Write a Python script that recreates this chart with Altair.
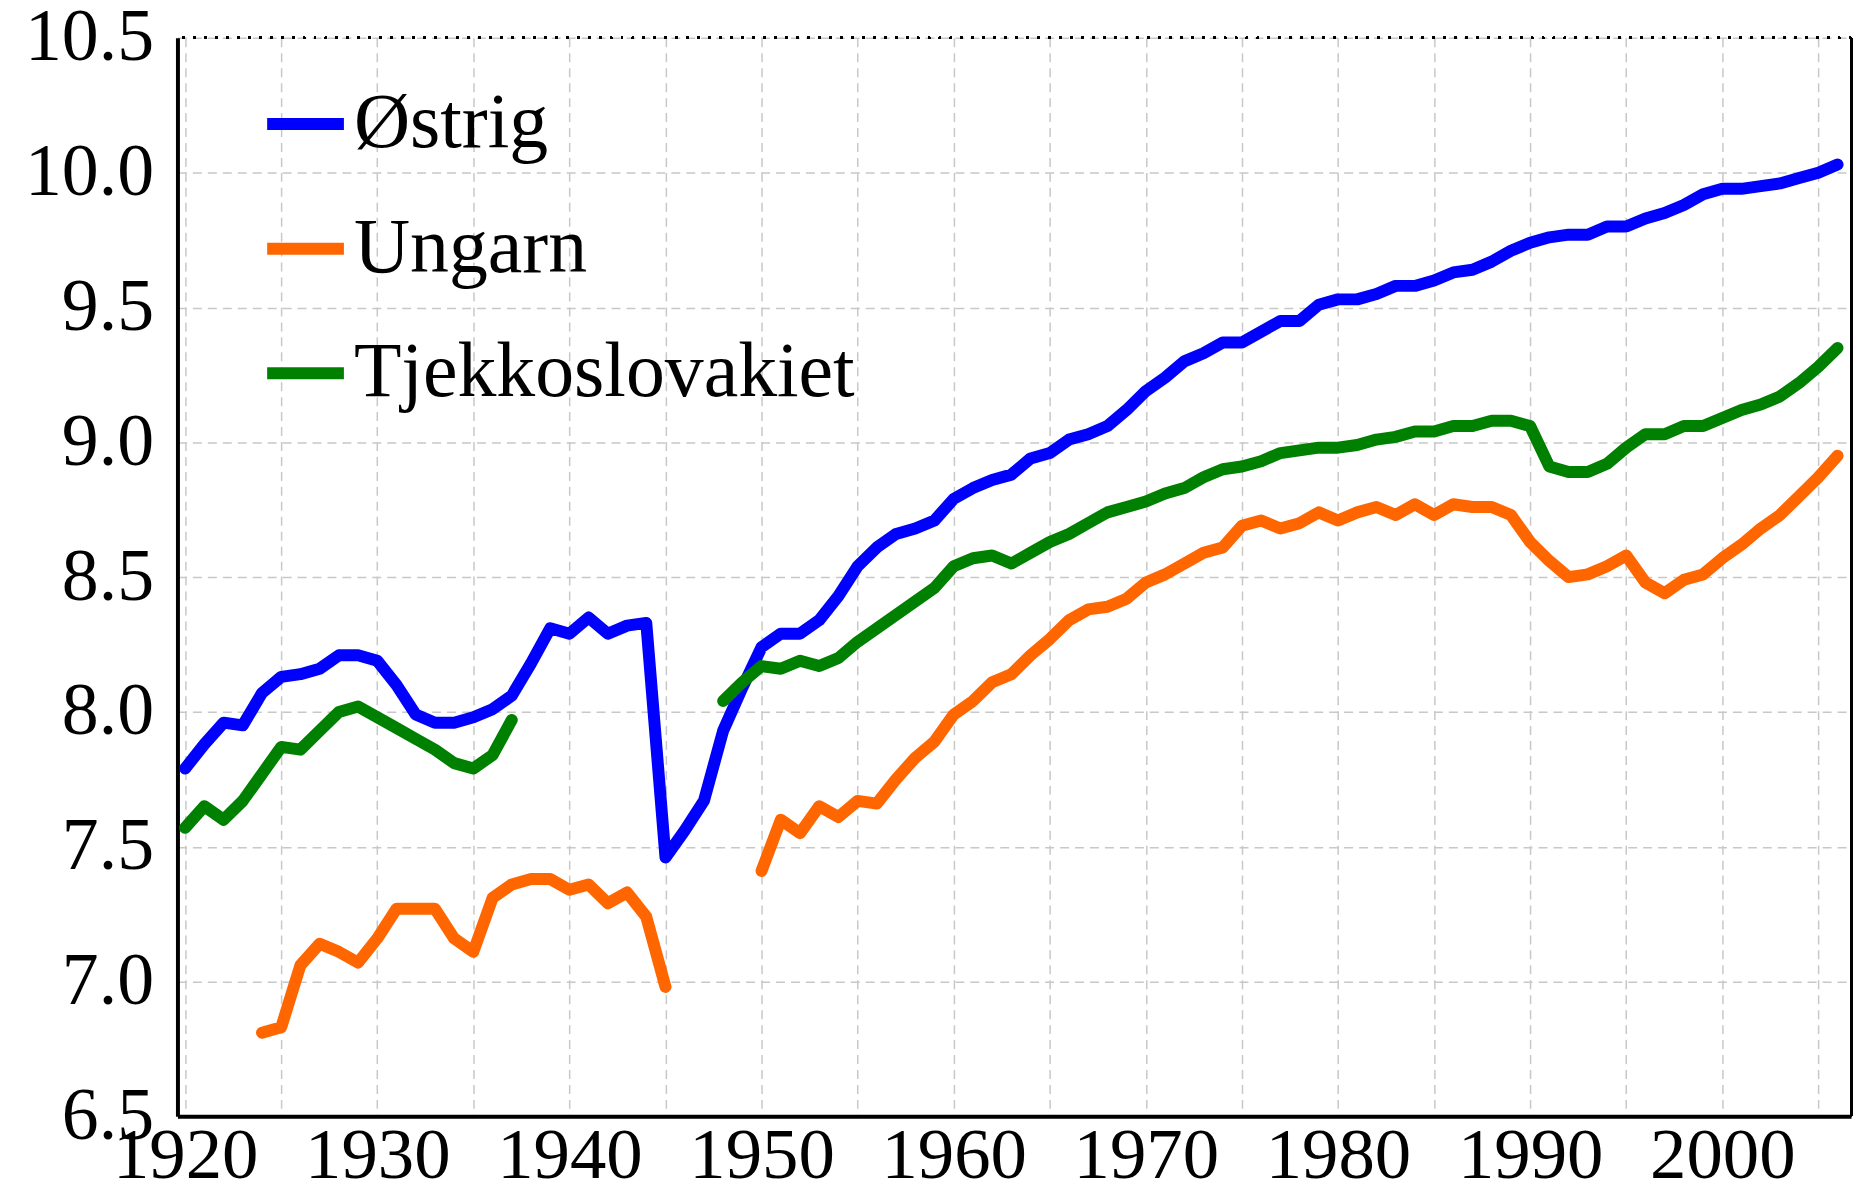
import altair as alt
import pandas as pd

# ---------------- data ----------------
series_names = ["Østrig", "Ungarn", "Tjekkoslovakiet"]
series_colors = ["#0000ff", "#ff6600", "#008000"]

austria_years = list(range(1920, 2007))
austria_values = [
    7.79, 7.88, 7.96, 7.95, 8.07, 8.13, 8.14, 8.16, 8.21, 8.21,   # 1920-1929
    8.19, 8.10, 7.99, 7.96, 7.96, 7.98, 8.01, 8.06, 8.18, 8.31,   # 1930-1939
    8.29, 8.35, 8.29, 8.32, 8.33, 7.46, 7.56, 7.67, 7.93, 8.09,   # 1940-1949
    8.24, 8.29, 8.29, 8.34, 8.43, 8.54, 8.61, 8.66, 8.68, 8.71,   # 1950-1959
    8.79, 8.83, 8.86, 8.88, 8.94, 8.96, 9.01, 9.03, 9.06, 9.12,   # 1960-1969
    9.19, 9.24, 9.30, 9.33, 9.37, 9.37, 9.41, 9.45, 9.45, 9.51,   # 1970-1979
    9.53, 9.53, 9.55, 9.58, 9.58, 9.60, 9.63, 9.64, 9.67, 9.71,   # 1980-1989
    9.74, 9.76, 9.77, 9.77, 9.80, 9.80, 9.83, 9.85, 9.88, 9.92,   # 1990-1999
    9.94, 9.94, 9.95, 9.96, 9.98, 10.00, 10.03,                   # 2000-2006
]

hungary_years_a = list(range(1924, 1946))
hungary_values_a = [
    6.81, 6.83, 7.06, 7.14, 7.11, 7.07,                           # 1924-1929
    7.16, 7.27, 7.27, 7.27, 7.16, 7.11, 7.31, 7.36, 7.38, 7.38,   # 1930-1939
    7.34, 7.36, 7.29, 7.33, 7.24, 6.98,                           # 1940-1945
]
hungary_years_b = list(range(1950, 2007))
hungary_values_b = [
    7.41, 7.60, 7.55, 7.65, 7.61, 7.67, 7.66, 7.75, 7.83, 7.89,   # 1950-1959
    7.99, 8.04, 8.11, 8.14, 8.21, 8.27, 8.34, 8.38, 8.39, 8.42,   # 1960-1969
    8.48, 8.51, 8.55, 8.59, 8.61, 8.69, 8.71, 8.68, 8.70, 8.74,   # 1970-1979
    8.71, 8.74, 8.76, 8.73, 8.77, 8.73, 8.77, 8.76, 8.76, 8.73,   # 1980-1989
    8.63, 8.56, 8.50, 8.51, 8.54, 8.58, 8.48, 8.44, 8.49, 8.51,   # 1990-1999
    8.57, 8.62, 8.68, 8.73, 8.80, 8.87, 8.95,                     # 2000-2006
]

czech_years_a = list(range(1920, 1938))
czech_values_a = [
    7.57, 7.65, 7.60, 7.67, 7.77, 7.87, 7.86, 7.93, 8.00, 8.02,   # 1920-1929
    7.98, 7.94, 7.90, 7.86, 7.81, 7.79, 7.84, 7.97,               # 1930-1937
]
czech_years_b = list(range(1948, 2007))
czech_values_b = [
    8.04, 8.11,                                                   # 1948-1949
    8.17, 8.16, 8.19, 8.17, 8.20, 8.26, 8.31, 8.36, 8.41, 8.46,   # 1950-1959
    8.54, 8.57, 8.58, 8.55, 8.59, 8.63, 8.66, 8.70, 8.74, 8.76,   # 1960-1969
    8.78, 8.81, 8.83, 8.87, 8.90, 8.91, 8.93, 8.96, 8.97, 8.98,   # 1970-1979
    8.98, 8.99, 9.01, 9.02, 9.04, 9.04, 9.06, 9.06, 9.08, 9.08,   # 1980-1989
    9.06, 8.91, 8.89, 8.89, 8.92, 8.98, 9.03, 9.03, 9.06, 9.06,   # 1990-1999
    9.09, 9.12, 9.14, 9.17, 9.22, 9.28, 9.35,                     # 2000-2006
]

x_tick_values = list(range(1920, 2006, 5))
y_tick_values = [6.5, 7.0, 7.5, 8.0, 8.5, 9.0, 9.5, 10.0, 10.5]
X_DOMAIN = [1919.6, 2006.7]
Y_DOMAIN = [6.5, 10.5]

# ---------------- build table ----------------
rows = []
parts = [
    ("Østrig", "a1", austria_years, austria_values),
    ("Ungarn", "h1", hungary_years_a, hungary_values_a),
    ("Ungarn", "h2", hungary_years_b, hungary_values_b),
    ("Tjekkoslovakiet", "c1", czech_years_a, czech_values_a),
    ("Tjekkoslovakiet", "c2", czech_years_b, czech_values_b),
]
for name, seg, yrs, vals in parts:
    for yr, v in zip(yrs, vals):
        rows.append({"series": name, "segment": seg, "year": yr, "value": v})
df = pd.DataFrame(rows)

FONT = "Liberation Serif"
GRID = "#c8c8c8"

x_enc = alt.X(
    "year:Q",
    scale=alt.Scale(domain=X_DOMAIN, nice=False, zero=False),
    axis=alt.Axis(
        values=x_tick_values,
        format="d",
        labelExpr="datum.value % 10 == 0 ? datum.label : ''",
        title=None,
        grid=True,
        gridDash=[9, 6],
        gridColor=GRID,
        gridWidth=1.5,
        domainColor="black",
        domainWidth=4,
        ticks=False,
        labelFont=FONT,
        labelFontSize=73,
        labelColor="black",
        labelPadding=3,
        labelOverlap=False,
        labelFlush=False,
    ),
)
y_enc = alt.Y(
    "value:Q",
    scale=alt.Scale(domain=Y_DOMAIN, nice=False, zero=False),
    axis=alt.Axis(
        values=y_tick_values,
        format=".1f",
        title=None,
        grid=True,
        gridDash=[9, 6],
        gridColor=GRID,
        gridWidth=1.5,
        domainColor="black",
        domainWidth=4,
        ticks=False,
        labelFont=FONT,
        labelFontSize=74,
        labelColor="black",
        labelPadding=24,
        labelOverlap=False,
        labelFlush=False,
    ),
)

lines = alt.Chart(df).mark_line(
    strokeWidth=12, strokeCap="round", strokeJoin="round"
).encode(
    x=x_enc,
    y=y_enc,
    detail="segment:N",
    color=alt.Color(
        "series:N",
        scale=alt.Scale(domain=series_names, range=series_colors),
        legend=alt.Legend(
            orient="none",
            legendX=84,
            legendY=42,
            title=None,
            symbolType="stroke",
            symbolStrokeWidth=12,
            symbolSize=5929,
            labelFont=FONT,
            labelFontSize=78,
            labelColor="black",
            labelLimit=0,
            labelOffset=4,
            rowPadding=41,
            padding=0,
        ),
    ),
    order="year:Q",
)

top_border = alt.Chart(df).mark_rule(
    color="black", strokeWidth=2.5, strokeDash=[2, 9]
).encode(y=alt.datum(Y_DOMAIN[1]))

right_border = alt.Chart(df).mark_rule(
    color="black", strokeWidth=2
).encode(x=alt.datum(X_DOMAIN[1]))

chart = alt.layer(lines, top_border, right_border).properties(
    width=1679,
    height=1082,
    autosize=alt.AutoSizeParams(type="none"),
    padding={"left": 170, "top": 28, "right": 5, "bottom": 78},
    background="white",
).configure_view(stroke="transparent")

chart.save("out.html", embed_options={"renderer": "svg", "actions": False})
